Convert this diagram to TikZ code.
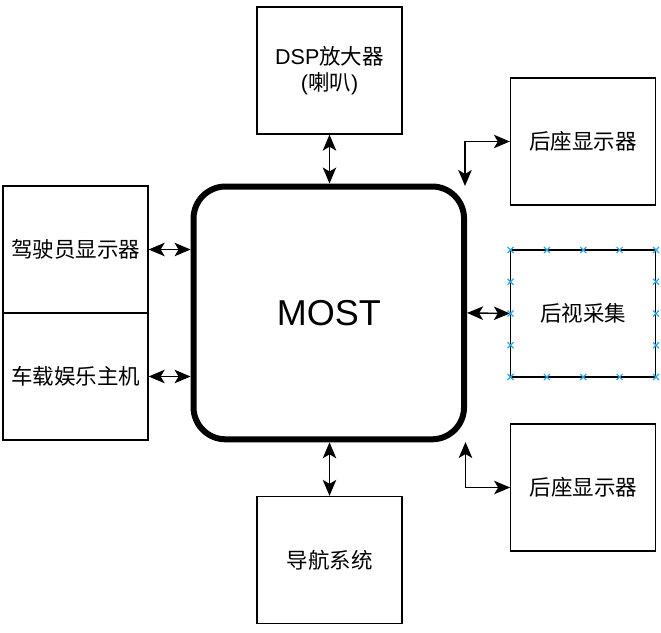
\documentclass[tikz,border=0pt]{standalone}
\usepackage{fontspec}
\setmainfont{Liberation Sans}
\newfontfamily\cjk{Noto Sans CJK SC}
\usetikzlibrary{arrows.meta,calc}
\begin{document}
\begin{tikzpicture}[x=1pt,y=-1pt,
  box/.style={draw, line width=1.3pt, minimum width=145pt, minimum height=127pt,
    inner sep=0pt, align=center, font=\fontsize{21.5}{26}\selectfont\cjk},
  link/.style={line width=1.4pt,
    {Stealth[length=16pt,width=13.5pt,inset=4pt]}-{Stealth[length=16pt,width=13.5pt,inset=4pt]}},
  selmark/.style={draw={rgb,255:red,41;green,170;blue,230}, line width=1.2pt}]
\useasboundingbox (0,0) rectangle (661,632);
\node[box] (dsp) at (329.5,70.5) {{\rmfamily DSP}放大器\\{\rmfamily(}喇叭{\rmfamily)}};
\node[box] (rt) at (583,141.5) {后座显示器};
\node[box] (rv) at (583,313.5) {后视采集};
\node[box] (rb) at (583.3,487.5) {后座显示器};
\node[box] (drv) at (75.5,249.5) {驾驶员显示器};
\node[box] (hu) at (75.5,376.5) {车载娱乐主机};
\node[box] (nav) at (329.5,560) {导航系统};
\node[draw, line width=6pt, rounded corners=32pt, minimum width=270.5pt,
  minimum height=252.8pt, inner sep=0pt, font=\fontsize{36}{40}\selectfont]
  (most) at (328.8,312.9) {MOST};
\coordinate (c1) at (465,186);
\coordinate (c2) at (465.5,442);
\draw[link] (dsp.south) -- (dsp.south |- most.north);
\draw[link] (nav.north) -- (nav.north |- most.south);
\draw[link] (drv.east) -- (drv.east -| most.west);
\draw[link] (hu.east) -- (hu.east -| most.west);
\draw[link] (most.east) -- (rv.west);
\draw[link] (rt.west) -| (c1);
\draw[link] (rb.west) -| (c2);
% selection markers
\foreach \x in {510.5,546.9,583.3,619.6,656}{
  \foreach \y in {250,377}{
    \draw[selmark] (\x-3,\y-3) -- (\x+3,\y+3) (\x-3,\y+3) -- (\x+3,\y-3);
  }
}
\foreach \x in {510.5,656}{
  \foreach \y in {281.75,313.5,345.25}{
    \draw[selmark] (\x-3,\y-3) -- (\x+3,\y+3) (\x-3,\y+3) -- (\x+3,\y-3);
  }
}
\end{tikzpicture}
\end{document}
